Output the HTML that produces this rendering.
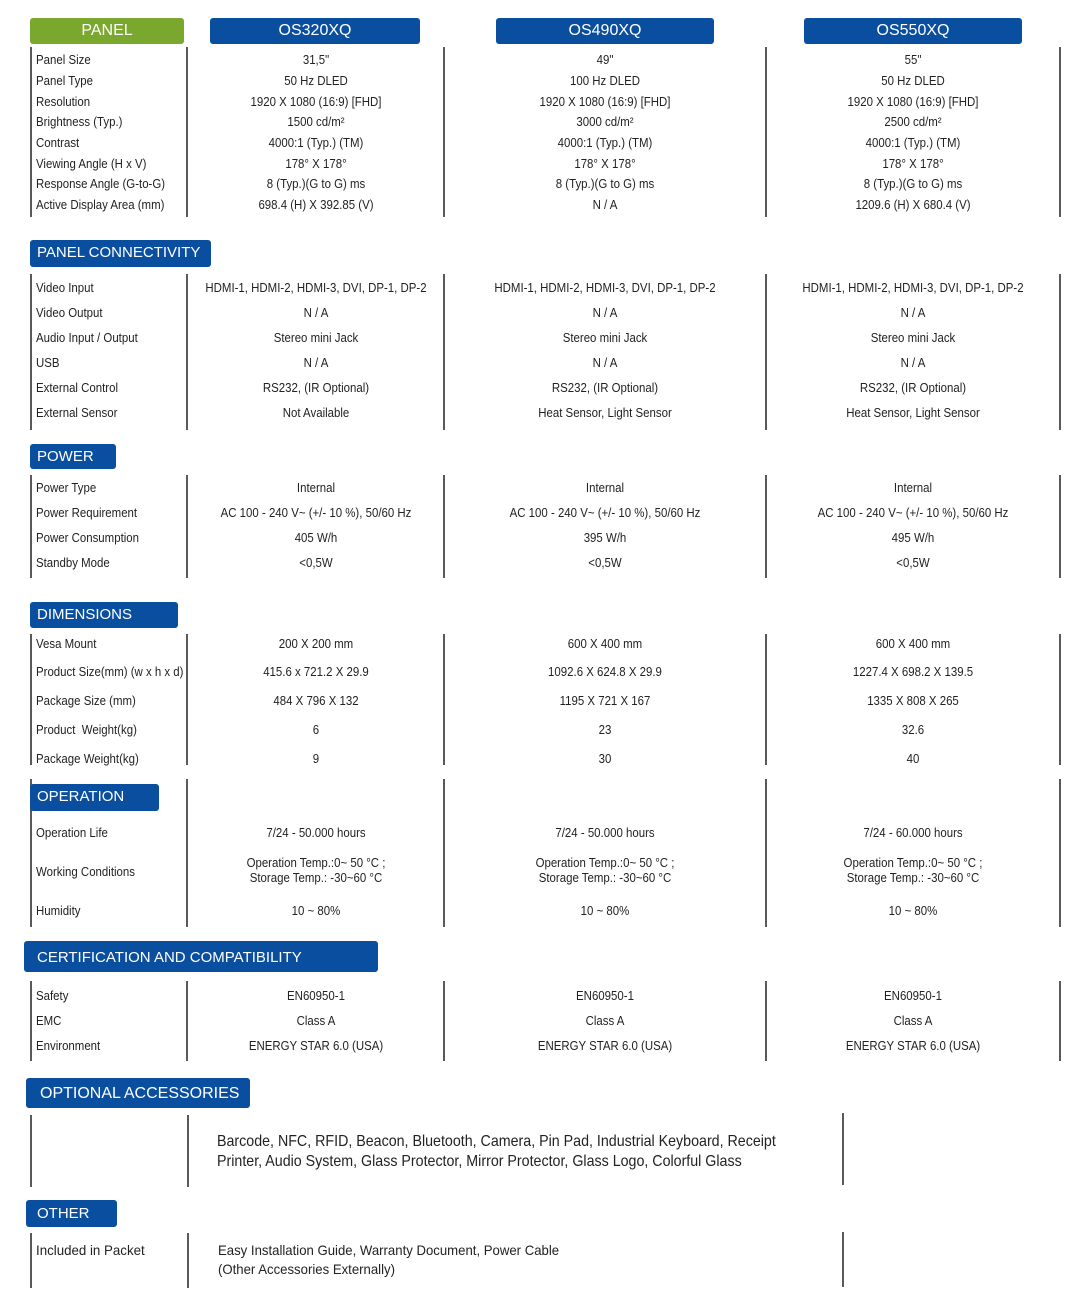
<!DOCTYPE html>
<html><head><meta charset="utf-8"><style>
body{margin:0;background:#fff;width:1080px;height:1298px;position:relative;overflow:hidden;font-family:"Liberation Sans",sans-serif;color:#222}
.h{position:absolute;background:#0a4f9f;color:#fff;font-family:"Liberation Sans",sans-serif;font-size:15px;line-height:26px;border-radius:3px;box-sizing:border-box;padding-left:7px;white-space:nowrap}
.hc{text-align:center;padding-left:0}
.v{position:absolute;width:2px;background:#5a5a5a}
.t{position:absolute;font-size:13px;line-height:16px;white-space:nowrap;transform:scaleX(0.88);transform-origin:0 50%}
.l{left:36px}
.c{width:260px;text-align:center;transform-origin:50% 50%}
.a{left:186px}.b{left:475px}.d{left:783px}
</style></head><body>
<div class="h hc" style="left:30px;top:18px;width:154px;background:#7aa72e;font-size:16px">PANEL</div>
<div class="h hc" style="left:210px;top:18px;width:210px;font-size:16px">OS320XQ</div>
<div class="h hc" style="left:496px;top:18px;width:218px;font-size:16px">OS490XQ</div>
<div class="h hc" style="left:804px;top:18px;width:218px;font-size:16px">OS550XQ</div>

<div class="v" style="left:30px;top:47px;height:170px"></div>
<div class="v" style="left:186px;top:47px;height:170px"></div>
<div class="v" style="left:443px;top:47px;height:170px"></div>
<div class="v" style="left:765px;top:47px;height:170px"></div>
<div class="v" style="left:1059px;top:47px;height:170px"></div>

<div class="t l" style="top:52px">Panel Size</div>
<div class="t l" style="top:73px">Panel Type</div>
<div class="t l" style="top:94px">Resolution</div>
<div class="t l" style="top:114px">Brightness (Typ.)</div>
<div class="t l" style="top:135px">Contrast</div>
<div class="t l" style="top:156px">Viewing Angle (H x V)</div>
<div class="t l" style="top:176px">Response Angle (G-to-G)</div>
<div class="t l" style="top:197px">Active Display Area (mm)</div>

<div class="t c a" style="top:52px">31,5"</div>
<div class="t c a" style="top:73px">50 Hz DLED</div>
<div class="t c a" style="top:94px">1920 X 1080 (16:9) [FHD]</div>
<div class="t c a" style="top:114px">1500 cd/m²</div>
<div class="t c a" style="top:135px">4000:1 (Typ.) (TM)</div>
<div class="t c a" style="top:156px">178° X 178°</div>
<div class="t c a" style="top:176px">8 (Typ.)(G to G) ms</div>
<div class="t c a" style="top:197px">698.4 (H) X 392.85 (V)</div>

<div class="t c b" style="top:52px">49"</div>
<div class="t c b" style="top:73px">100 Hz DLED</div>
<div class="t c b" style="top:94px">1920 X 1080 (16:9) [FHD]</div>
<div class="t c b" style="top:114px">3000 cd/m²</div>
<div class="t c b" style="top:135px">4000:1 (Typ.) (TM)</div>
<div class="t c b" style="top:156px">178° X 178°</div>
<div class="t c b" style="top:176px">8 (Typ.)(G to G) ms</div>
<div class="t c b" style="top:197px">N / A</div>

<div class="t c d" style="top:52px">55"</div>
<div class="t c d" style="top:73px">50 Hz DLED</div>
<div class="t c d" style="top:94px">1920 X 1080 (16:9) [FHD]</div>
<div class="t c d" style="top:114px">2500 cd/m²</div>
<div class="t c d" style="top:135px">4000:1 (Typ.) (TM)</div>
<div class="t c d" style="top:156px">178° X 178°</div>
<div class="t c d" style="top:176px">8 (Typ.)(G to G) ms</div>
<div class="t c d" style="top:197px">1209.6 (H) X 680.4 (V)</div>

<div class="h" style="left:30px;top:240px;width:181px;height:27px">PANEL CONNECTIVITY</div>
<div class="v" style="left:30px;top:274px;height:156px"></div>
<div class="v" style="left:186px;top:274px;height:156px"></div>
<div class="v" style="left:443px;top:274px;height:156px"></div>
<div class="v" style="left:765px;top:274px;height:156px"></div>
<div class="v" style="left:1059px;top:274px;height:156px"></div>
<div class="t l" style="top:280px">Video Input</div>
<div class="t l" style="top:305px">Video Output</div>
<div class="t l" style="top:330px">Audio Input / Output</div>
<div class="t l" style="top:355px">USB</div>
<div class="t l" style="top:380px">External Control</div>
<div class="t l" style="top:405px">External Sensor</div>
<div class="t c a" style="top:280px">HDMI-1, HDMI-2, HDMI-3, DVI, DP-1, DP-2</div>
<div class="t c a" style="top:305px">N / A</div>
<div class="t c a" style="top:330px">Stereo mini Jack</div>
<div class="t c a" style="top:355px">N / A</div>
<div class="t c a" style="top:380px">RS232, (IR Optional)</div>
<div class="t c a" style="top:405px">Not Available</div>
<div class="t c b" style="top:280px">HDMI-1, HDMI-2, HDMI-3, DVI, DP-1, DP-2</div>
<div class="t c b" style="top:305px">N / A</div>
<div class="t c b" style="top:330px">Stereo mini Jack</div>
<div class="t c b" style="top:355px">N / A</div>
<div class="t c b" style="top:380px">RS232, (IR Optional)</div>
<div class="t c b" style="top:405px">Heat Sensor, Light Sensor</div>
<div class="t c d" style="top:280px">HDMI-1, HDMI-2, HDMI-3, DVI, DP-1, DP-2</div>
<div class="t c d" style="top:305px">N / A</div>
<div class="t c d" style="top:330px">Stereo mini Jack</div>
<div class="t c d" style="top:355px">N / A</div>
<div class="t c d" style="top:380px">RS232, (IR Optional)</div>
<div class="t c d" style="top:405px">Heat Sensor, Light Sensor</div>

<div class="h" style="left:30px;top:444px;width:86px;height:25px;line-height:25px">POWER</div>
<div class="v" style="left:30px;top:475px;height:103px"></div>
<div class="v" style="left:186px;top:475px;height:103px"></div>
<div class="v" style="left:443px;top:475px;height:103px"></div>
<div class="v" style="left:765px;top:475px;height:103px"></div>
<div class="v" style="left:1059px;top:475px;height:103px"></div>
<div class="t l" style="top:480px">Power Type</div>
<div class="t l" style="top:505px">Power Requirement</div>
<div class="t l" style="top:530px">Power Consumption</div>
<div class="t l" style="top:555px">Standby Mode</div>
<div class="t c a" style="top:480px">Internal</div>
<div class="t c a" style="top:505px">AC 100 - 240 V~ (+/- 10 %), 50/60 Hz</div>
<div class="t c a" style="top:530px">405 W/h</div>
<div class="t c a" style="top:555px">&lt;0,5W</div>
<div class="t c b" style="top:480px">Internal</div>
<div class="t c b" style="top:505px">AC 100 - 240 V~ (+/- 10 %), 50/60 Hz</div>
<div class="t c b" style="top:530px">395 W/h</div>
<div class="t c b" style="top:555px">&lt;0,5W</div>
<div class="t c d" style="top:480px">Internal</div>
<div class="t c d" style="top:505px">AC 100 - 240 V~ (+/- 10 %), 50/60 Hz</div>
<div class="t c d" style="top:530px">495 W/h</div>
<div class="t c d" style="top:555px">&lt;0,5W</div>

<div class="h" style="left:30px;top:602px;width:148px;height:26px">DIMENSIONS</div>
<div class="v" style="left:30px;top:634px;height:131px"></div>
<div class="v" style="left:186px;top:634px;height:131px"></div>
<div class="v" style="left:443px;top:634px;height:131px"></div>
<div class="v" style="left:765px;top:634px;height:131px"></div>
<div class="v" style="left:1059px;top:634px;height:131px"></div>
<div class="t l" style="top:636px">Vesa Mount</div>
<div class="t l" style="top:664px">Product Size(mm) (w x h x d)</div>
<div class="t l" style="top:693px">Package Size (mm)</div>
<div class="t l" style="top:722px">Product&nbsp; Weight(kg)</div>
<div class="t l" style="top:751px">Package Weight(kg)</div>
<div class="t c a" style="top:636px">200 X 200 mm</div>
<div class="t c a" style="top:664px">415.6 x 721.2 X 29.9</div>
<div class="t c a" style="top:693px">484 X 796 X 132</div>
<div class="t c a" style="top:722px">6</div>
<div class="t c a" style="top:751px">9</div>
<div class="t c b" style="top:636px">600 X 400 mm</div>
<div class="t c b" style="top:664px">1092.6 X 624.8 X 29.9</div>
<div class="t c b" style="top:693px">1195 X 721 X 167</div>
<div class="t c b" style="top:722px">23</div>
<div class="t c b" style="top:751px">30</div>
<div class="t c d" style="top:636px">600 X 400 mm</div>
<div class="t c d" style="top:664px">1227.4 X 698.2 X 139.5</div>
<div class="t c d" style="top:693px">1335 X 808 X 265</div>
<div class="t c d" style="top:722px">32.6</div>
<div class="t c d" style="top:751px">40</div>

<div class="v" style="left:30px;top:779px;height:148px"></div>
<div class="v" style="left:186px;top:779px;height:148px"></div>
<div class="v" style="left:443px;top:779px;height:148px"></div>
<div class="v" style="left:765px;top:779px;height:148px"></div>
<div class="v" style="left:1059px;top:779px;height:148px"></div>
<div class="h" style="left:30px;top:784px;width:129px;height:27px">OPERATION</div>
<div class="t l" style="top:825px">Operation Life</div>
<div class="t l" style="top:864px">Working Conditions</div>
<div class="t l" style="top:903px">Humidity</div>
<div class="t c a" style="top:825px">7/24 - 50.000 hours</div>
<div class="t c a" style="top:855px;line-height:15px">Operation Temp.:0~ 50 °C ;<br>Storage Temp.: -30~60 °C</div>
<div class="t c a" style="top:903px">10 ~ 80%</div>
<div class="t c b" style="top:825px">7/24 - 50.000 hours</div>
<div class="t c b" style="top:855px;line-height:15px">Operation Temp.:0~ 50 °C ;<br>Storage Temp.: -30~60 °C</div>
<div class="t c b" style="top:903px">10 ~ 80%</div>
<div class="t c d" style="top:825px">7/24 - 60.000 hours</div>
<div class="t c d" style="top:855px;line-height:15px">Operation Temp.:0~ 50 °C ;<br>Storage Temp.: -30~60 °C</div>
<div class="t c d" style="top:903px">10 ~ 80%</div>

<div class="h" style="left:24px;top:941px;width:354px;height:31px;line-height:33px;padding-left:13px">CERTIFICATION AND COMPATIBILITY</div>
<div class="v" style="left:30px;top:981px;height:80px"></div>
<div class="v" style="left:186px;top:981px;height:80px"></div>
<div class="v" style="left:443px;top:981px;height:80px"></div>
<div class="v" style="left:765px;top:981px;height:80px"></div>
<div class="v" style="left:1059px;top:981px;height:80px"></div>
<div class="t l" style="top:988px">Safety</div>
<div class="t l" style="top:1013px">EMC</div>
<div class="t l" style="top:1038px">Environment</div>
<div class="t c a" style="top:988px">EN60950-1</div>
<div class="t c a" style="top:1013px">Class A</div>
<div class="t c a" style="top:1038px">ENERGY STAR 6.0 (USA)</div>
<div class="t c b" style="top:988px">EN60950-1</div>
<div class="t c b" style="top:1013px">Class A</div>
<div class="t c b" style="top:1038px">ENERGY STAR 6.0 (USA)</div>
<div class="t c d" style="top:988px">EN60950-1</div>
<div class="t c d" style="top:1013px">Class A</div>
<div class="t c d" style="top:1038px">ENERGY STAR 6.0 (USA)</div>

<div class="h" style="left:26px;top:1078px;width:224px;height:30px;line-height:32px;padding-left:14px;font-size:16px">OPTIONAL ACCESSORIES</div>
<div class="v" style="left:30px;top:1115px;height:72px"></div>
<div class="v" style="left:187px;top:1115px;height:72px"></div>
<div class="v" style="left:842px;top:1113px;height:72px"></div>
<div class="t" style="left:217px;top:1132px;font-size:16px;line-height:20px;transform:scaleX(0.89)">Barcode, NFC, RFID, Beacon, Bluetooth, Camera, Pin Pad, Industrial Keyboard, Receipt<br>Printer, Audio System, Glass Protector, Mirror Protector, Glass Logo, Colorful Glass</div>

<div class="h" style="left:26px;top:1200px;width:91px;height:27px;line-height:28px;padding-left:11px">OTHER</div>
<div class="v" style="left:30px;top:1233px;height:55px"></div>
<div class="v" style="left:187px;top:1233px;height:55px"></div>
<div class="v" style="left:842px;top:1232px;height:55px"></div>
<div class="t" style="left:36px;top:1242px;font-size:14px;transform:scaleX(0.95)">Included in Packet</div>
<div class="t" style="left:218px;top:1241px;font-size:14px;line-height:19px;transform:scaleX(0.94)">Easy Installation Guide, Warranty Document, Power Cable<br>(Other Accessories Externally)</div>
</body></html>
